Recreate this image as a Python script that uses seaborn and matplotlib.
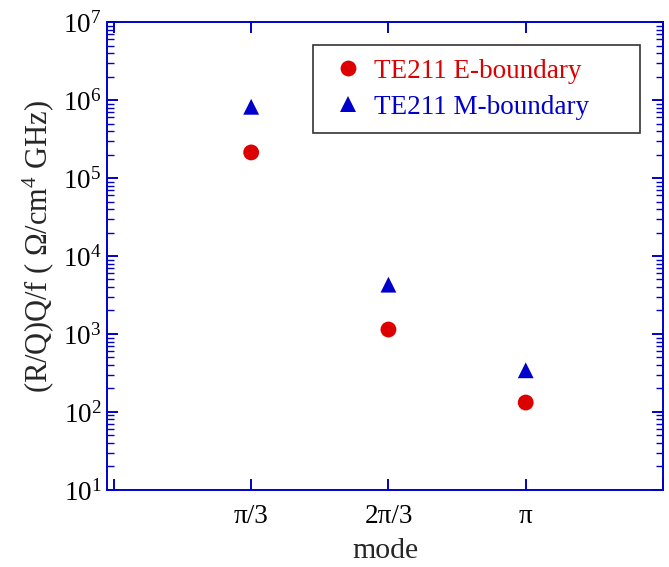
import math
import matplotlib
matplotlib.use("Agg")
import matplotlib.pyplot as plt
import matplotlib.ticker as mticker
import seaborn as sns
import pandas as pd

# Mode positions and labels
modes = ["π/3", "2π/3", "π"]
mode_pos = [1, 2, 3]

# (R/Q)Q/f values for the two boundary conditions
e_boundary = [2.13e5, 1.14e3, 1.32e2]
m_boundary = [8.2e5, 4.29e3, 3.42e2]

series_names = ["TE211 E-boundary", "TE211 M-boundary"]
series_colors = ["#dd0000", "#0000cc"]
series_markers = ["o", "^"]

sns.set_theme(style="white")
plt.rcParams["font.family"] = ["Liberation Serif", "DejaVu Serif"]
plt.rcParams["mathtext.fontset"] = "custom"
plt.rcParams["mathtext.rm"] = "Liberation Serif"
plt.rcParams["mathtext.it"] = "Liberation Serif:italic"
plt.rcParams["mathtext.bf"] = "Liberation Serif:bold"

df = pd.DataFrame({
    "pos": mode_pos * 2,
    "value": e_boundary + m_boundary,
    "series": [series_names[0]] * 3 + [series_names[1]] * 3,
})

fig = plt.figure(figsize=(6.69, 5.67), dpi=100)
ax = fig.add_axes([0.160, 0.136, 0.831, 0.825])

sns.scatterplot(data=df, x="pos", y="value", hue="series", style="series",
                hue_order=series_names, style_order=series_names,
                palette=series_colors, markers=series_markers,
                s=130, linewidth=0, ax=ax)

ax.set_yscale("log")
ax.set_ylim(10, 1e7)
ax.set_xlim(-0.05, 4.0)

# labelled mode ticks plus unlabelled end ticks
ax.set_xticks(mode_pos)
ax.set_xticklabels(modes)
ax.set_xticks([0, 4], minor=True)
ax.xaxis.set_minor_formatter(mticker.NullFormatter())
ax.yaxis.set_major_locator(mticker.LogLocator(base=10, numticks=10))
ax.yaxis.set_minor_locator(mticker.LogLocator(base=10, subs=range(2, 10), numticks=20))
ax.yaxis.set_major_formatter(mticker.FuncFormatter(
    lambda v, p: r"10$^{%d}$" % round(math.log10(v))))
ax.yaxis.set_minor_formatter(mticker.NullFormatter())

blue = "#0000cc"
for sp in ax.spines.values():
    sp.set_color(blue)
    sp.set_linewidth(1.4)
    sp.set_visible(True)

ax.tick_params(which="both", direction="in", colors=blue, labelcolor="black",
               top=True, right=True, left=True, bottom=True, labelsize=19.5)
ax.tick_params(which="major", length=8, width=1.4)
ax.tick_params(axis="y", which="minor", length=5, width=1.0)
ax.tick_params(axis="x", which="minor", length=8, width=1.4)
ax.tick_params(axis="x", pad=10)
ax.tick_params(axis="y", pad=4)

ax.set_xlabel("mode", fontsize=21.5, labelpad=7)
ax.set_ylabel(r"(R/Q)Q/f ( Ω/cm$^4$ GHz)", fontsize=22)
ax.yaxis.set_label_coords(-0.092, 0.521)

leg = ax.legend(loc="upper left", bbox_to_anchor=(0.3705, 0.771, 0.588, 0.18),
                mode="expand", borderaxespad=0, fontsize=19.5,
                frameon=True, fancybox=False, handletextpad=0.15,
                borderpad=0.5, labelspacing=0.42, handlelength=1.6,
                markerscale=1.0)
leg.get_frame().set_edgecolor("black")
leg.get_frame().set_linewidth(1.2)
for txt, c in zip(leg.get_texts(), series_colors):
    txt.set_color(c)

fig.savefig("out.png", dpi=100)
